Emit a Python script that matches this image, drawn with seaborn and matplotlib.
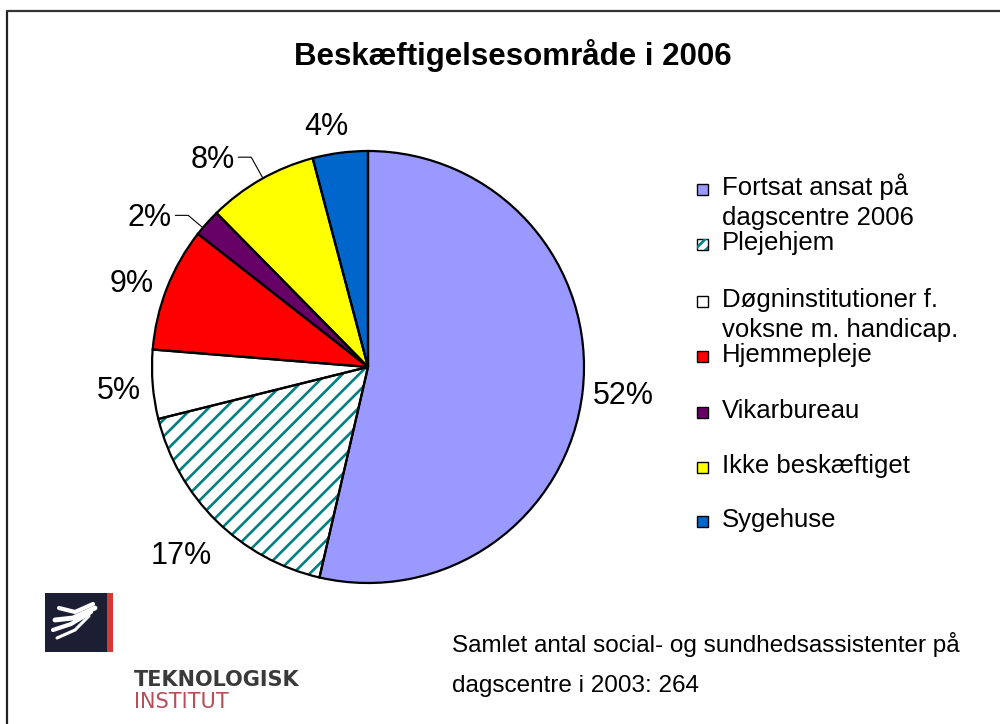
import numpy as np
import matplotlib
matplotlib.use("Agg")
import matplotlib.pyplot as plt
import seaborn as sns
from matplotlib.patches import Rectangle
from matplotlib.lines import Line2D

# data
categories = ["Fortsat ansat på\ndagscentre 2006", "Plejehjem",
              "Døgninstitutioner f.\nvoksne m. handicap.", "Hjemmepleje",
              "Vikarbureau", "Ikke beskæftiget", "Sygehuse"]
shares = [52, 17, 5, 9, 2, 8, 4]
pct_labels = ["52%", "17%", "5%", "9%", "2%", "8%", "4%"]
colors = ["#9999FF", "#FFFFFF", "#FFFFFF", "#FF0000", "#660066", "#FFFF00", "#0066CC"]
hatches = [None, "//", None, None, None, None, None]
title = "Beskæftigelsesområde i 2006"
note_lines = ["Samlet antal social- og sundhedsassistenter på", "dagscentre i 2003: 264"]

# label placement tweaks (radius, angle offset in degrees, uses leader line)
label_r = [1.19, 1.23, 1.16, 1.16, 1.14, 1.14, 1.13]
label_dt = [0, 0, 0.9, 2.0, 4.5, 3.0, 2.5]
leader = [False, False, False, False, True, True, False]

sns.set_theme(style="white")
plt.rcParams["font.family"] = ["Liberation Sans", "DejaVu Sans"]
plt.rcParams["text.color"] = "black"
plt.rcParams["hatch.linewidth"] = 1.9

fig = plt.figure(figsize=(10, 7.24), dpi=100)
fig.patch.set_facecolor("white")

W, H = 1000, 724
cx, cy, R = 368, 367, 216
ax = fig.add_axes([(cx - R) / W, (H - cy - R) / H, 2 * R / W, 2 * R / H])

# filled wedges (hatch drawn in teal), then black outlines on top
wedges, _ = ax.pie(shares, colors=colors, startangle=90, counterclock=False,
                   radius=1, wedgeprops=dict(linewidth=0))
for w, h in zip(wedges, hatches):
    if h:
        w.set_hatch(h)
        w.set_edgecolor("#008080")
ax.pie(shares, startangle=90, counterclock=False, radius=1,
       wedgeprops=dict(fill=False, edgecolor="black", linewidth=1.6))
ax.set_xlim(-1, 1)
ax.set_ylim(-1, 1)
ax.set_aspect("equal")
ax.axis("off")

for w, lab, r, dt, ld in zip(wedges, pct_labels, label_r, label_dt, leader):
    a = np.deg2rad((w.theta1 + w.theta2) / 2 + dt)
    x, y = r * np.cos(a), r * np.sin(a)
    if ld:
        ax.text(x, y, lab, ha="right", va="center", fontsize=22, clip_on=False)
        p2 = np.array([x + 0.015, y + 0.012])
        p1 = p2 + np.array([0.06, 0])
        p0 = p1 / np.hypot(*p1)
        ax.plot([p2[0], p1[0], p0[0]], [p2[1], p1[1], p0[1]],
                color="black", lw=0.8, clip_on=False)
    else:
        ax.text(x, y, lab, ha="center", va="center", fontsize=22, clip_on=False)

# title
fig.text(513 / W, 1 - 65 / H, title, ha="center", va="baseline",
         fontsize=22.5, fontweight="bold")

# legend (first-line baselines in pixels, 30 px per extra line)
baselines = [195, 250, 307, 362, 418, 473, 527]
for lab, col, h, b in zip(categories, colors, hatches, baselines):
    sq = Rectangle((697 / W, 1 - b / H), 11 / W, 11 / H, transform=fig.transFigure,
                   facecolor=col, edgecolor="black", linewidth=1.0)
    fig.add_artist(sq)
    if h:
        hs = Rectangle((697 / W, 1 - b / H), 11 / W, 11 / H, transform=fig.transFigure,
                       facecolor="none", edgecolor="#008080", linewidth=0, hatch="///")
        fig.add_artist(hs)
    for i, line in enumerate(lab.split("\n")):
        fig.text(722 / W, 1 - (b + 30 * i) / H, line, ha="left", va="baseline",
                 fontsize=18.5)

# note text
for i, line in enumerate(note_lines):
    fig.text(452 / W, 1 - (652 + 40 * i) / H, line, ha="left", va="baseline",
             fontsize=17.5)

# logo
lax = fig.add_axes([45 / W, 1 - 652 / H, 68 / W, 59 / H])
lax.set_xlim(0, 68)
lax.set_ylim(0, 59)
lax.axis("off")
lax.add_patch(Rectangle((0, 0), 62, 59, facecolor="#1c1f33", edgecolor="none"))
lax.add_patch(Rectangle((62, 0), 6, 59, facecolor="#d23a35", edgecolor="none"))
for xs, ys, lw in [([14, 30, 48], [44, 40, 48], 3.0),
                   ([10, 28, 50], [32, 34, 44], 3.5),
                   ([8, 26, 46], [22, 28, 40], 3.0),
                   ([12, 30, 44], [14, 22, 36], 2.2)]:
    lax.plot(xs, ys, color="white", lw=lw, solid_capstyle="round")
fig.text(134 / W, 1 - 686 / H, "TEKNOLOGISK", ha="left", va="baseline",
         fontsize=15, color="#3a3a3a", family="DejaVu Sans", fontweight="semibold")
fig.text(134 / W, 1 - 708 / H, "INSTITUT", ha="left", va="baseline",
         fontsize=15, color="#b5505a", family="DejaVu Sans")

# slide frame
fig.add_artist(Line2D([7 / W, 7 / W], [0, 1 - 11 / H], transform=fig.transFigure,
                      color="#222222", lw=1.6))
fig.add_artist(Line2D([7 / W, 1], [1 - 11 / H, 1 - 11 / H], transform=fig.transFigure,
                      color="#333333", lw=1.6))

fig.savefig("out.png", dpi=100)
